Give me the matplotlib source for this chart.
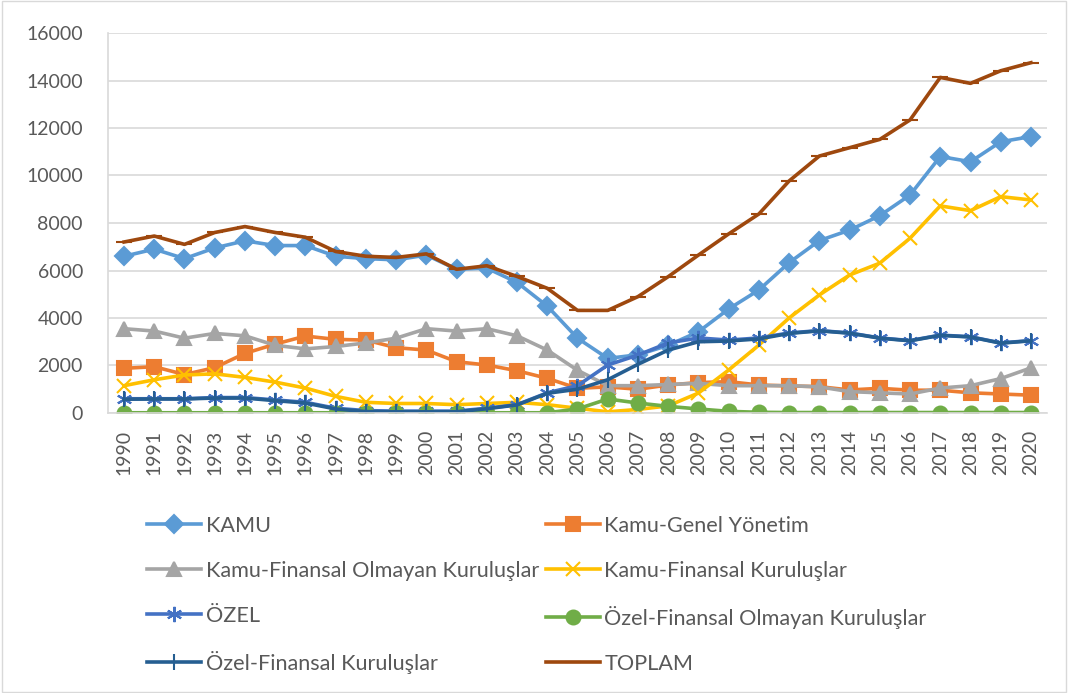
import matplotlib.pyplot as plt
import numpy as np

plt.rcParams['font.family'] = ['Lato', 'DejaVu Sans']

years = list(range(1990, 2021))

kamu = [6600, 6900, 6500, 6950, 7250, 7050, 7050, 6600, 6500, 6450, 6650, 6050, 6100, 5500, 4500,
        3150, 2300, 2450, 2850, 3420, 4380, 5180, 6330, 7260, 7700, 8310, 9180, 10800, 10580, 11420, 11640]
kamu_genel = [1880, 1950, 1620, 1910, 2510, 2900, 3240, 3100, 3070, 2750, 2650, 2160, 2020, 1780, 1460,
              1040, 1100, 1000, 1180, 1280, 1320, 1180, 1140, 1110, 970, 1040, 960, 960, 850, 800, 750]
kamu_fin_olm = [3550, 3450, 3150, 3350, 3250, 2850, 2700, 2800, 2950, 3150, 3550, 3450, 3550, 3250, 2650,
                1800, 1150, 1150, 1200, 1250, 1150, 1150, 1150, 1100, 900, 850, 800, 1050, 1150, 1450, 1900]
kamu_fin = [1150, 1400, 1600, 1650, 1500, 1300, 1050, 700, 450, 400, 400, 350, 400, 450, 350,
            200, 50, 150, 300, 840, 1810, 2860, 4000, 4970, 5810, 6310, 7360, 8720, 8520, 9110, 8970]
ozel = [600, 600, 600, 650, 650, 550, 450, 200, 100, 80, 80, 80, 200, 350, 850,
        1150, 2020, 2440, 2950, 3160, 3070, 3160, 3370, 3470, 3370, 3160, 3050, 3280, 3210, 2950, 3050]
ozel_fin_olm = [10, 10, 10, 10, 10, 10, 10, 10, 10, 10, 10, 10, 10, 10, 10,
                170, 590, 420, 280, 170, 70, 30, 20, 20, 20, 20, 20, 20, 20, 20, 20]
ozel_fin = [580, 590, 590, 630, 630, 520, 420, 170, 60, 50, 50, 50, 180, 340, 830,
            1000, 1400, 2050, 2650, 3000, 3030, 3120, 3350, 3460, 3360, 3150, 3040, 3270, 3200, 2940, 3040]
toplam = [7200, 7450, 7100, 7600, 7850, 7600, 7400, 6800, 6600, 6550, 6700, 6050, 6200, 5750, 5250,
          4320, 4320, 4900, 5740, 6650, 7540, 8380, 9770, 10820, 11170, 11520, 12340, 14130, 13880, 14410, 14750]

series = [
    ('KAMU', kamu, '#5B9BD5', 'D', 9),
    ('Kamu-Genel Yönetim', kamu_genel, '#ED7D31', 's', 10),
    ('Kamu-Finansal Olmayan Kuruluşlar', kamu_fin_olm, '#A5A5A5', '^', 10),
    ('Kamu-Finansal Kuruluşlar', kamu_fin, '#FFC000', 'x', 10),
    ('ÖZEL', ozel, '#4472C4', (6, 2, 0), 11),
    ('Özel-Finansal Olmayan Kuruluşlar', ozel_fin_olm, '#70AD47', 'o', 10),
    ('Özel-Finansal Kuruluşlar', ozel_fin, '#255E91', '|', 11),
    ('TOPLAM', toplam, '#9E480E', '_', 11),
]

fig = plt.figure(figsize=(10.68, 6.93), dpi=100)
ax = fig.add_axes([108 / 1068, 1 - 413 / 693, (1047 - 108) / 1068, 380 / 693])

x = np.arange(len(years))
handles = []
for name, vals, col, mk, ms in series:
    h, = ax.plot(x, vals, color=col, lw=2.6, marker=mk, markersize=ms,
                 markeredgewidth=1.5, markeredgecolor=col, markerfacecolor=col, label=name)
    handles.append(h)

ax.set_xlim(-0.53, len(years) - 0.47)
ax.set_ylim(0, 16000)
ax.set_yticks(range(0, 16001, 2000))
ax.set_xticks(x)
ax.set_xticklabels([str(y) for y in years], rotation=90)
ax.tick_params(axis='both', length=0, colors='#595959')
ax.tick_params(axis='x', pad=12, labelsize=14)
ax.tick_params(axis='y', pad=18, labelsize=14)
ax.grid(axis='y', color='#D9D9D9', lw=1.2)
ax.set_axisbelow(True)
for s in ['top', 'right']:
    ax.spines[s].set_visible(False)
for s in ['left', 'bottom']:
    ax.spines[s].set_color('#D9D9D9')
    ax.spines[s].set_linewidth(1.2)

# legend is filled row by row in the original, matplotlib fills columns
order = [0, 2, 4, 6, 1, 3, 5, 7]
fig.legend([handles[i] for i in order], [series[i][0] for i in order],
           loc='upper left', bbox_to_anchor=(136 / 1068, 1 - 505 / 693), ncol=2,
           frameon=False, fontsize=15.6, labelcolor='#595959', handlelength=2.5,
           handletextpad=0.22, columnspacing=0.3, labelspacing=1.15, borderpad=0)

border = plt.Rectangle((0.002, 0.002), 0.996, 0.996, transform=fig.transFigure,
                       fill=False, edgecolor='#D9D9D9', lw=1)
fig.patches.append(border)

fig.savefig('out.png', dpi=100)
